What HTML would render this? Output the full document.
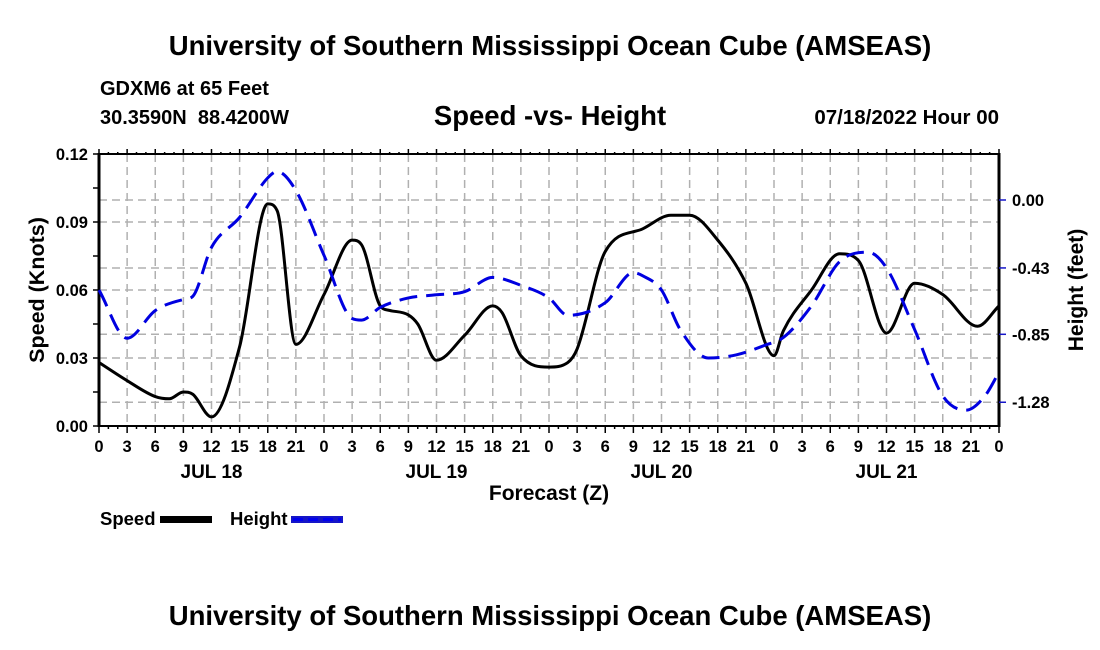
<!DOCTYPE html>
<html><head><meta charset="utf-8"><style>
body{margin:0;background:#fff;}
svg{display:block;font-family:"Liberation Sans",sans-serif;font-weight:bold;}
</style></head><body>
<svg id="c" width="1100" height="650">
<text x="550" y="55" text-anchor="middle" font-size="27.5">University of Southern Mississippi Ocean Cube (AMSEAS)</text>
<text x="100" y="95" font-size="20">GDXM6 at 65 Feet</text>
<text x="100" y="124" font-size="20" xml:space="preserve">30.3590N  88.4200W</text>
<text x="550" y="125" text-anchor="middle" font-size="27.5">Speed -vs- Height</text>
<text x="999" y="124" text-anchor="end" font-size="20.5">07/18/2022 Hour 00</text>
<text x="549" y="500" text-anchor="middle" font-size="21">Forecast (Z)</text>
<text transform="translate(44,290) rotate(-90)" text-anchor="middle" font-size="21.5">Speed (Knots)</text>
<text transform="translate(1083,290) rotate(-90)" text-anchor="middle" font-size="21">Height (feet)</text>
<text x="100" y="525" font-size="18.5">Speed</text>
<rect x="160" y="516" width="52" height="7" fill="#000"/>
<text x="230" y="525" font-size="18.5">Height</text>
<rect x="291" y="516" width="52" height="7" fill="#1515c8"/>
<line x1="293" y1="519.5" x2="341" y2="519.5" stroke="#0000ee" stroke-width="3" stroke-dasharray="10,5"/>
<text x="550" y="625" text-anchor="middle" font-size="27.5">University of Southern Mississippi Ocean Cube (AMSEAS)</text>
<g id="g"></g>
</svg>
<script>
const speedHours=[0,3,6,7.5,9,10,12,15,18,19,21,24,27,28,30,31,33,34,36,39,42,43,45,48,50,51,54,58,61,63,66,69,72,73,76,79,81,84,87,90,93.7,96];
const speedVals=[0.028,0.020,0.013,0.012,0.015,0.014,0.004,0.035,0.098,0.095,0.036,0.058,0.082,0.080,0.053,0.051,0.049,0.045,0.029,0.040,0.053,0.050,0.031,0.026,0.028,0.034,0.077,0.087,0.093,0.093,0.082,0.063,0.031,0.042,0.060,0.076,0.073,0.041,0.063,0.058,0.044,0.053];
const heightHours=[0,3,6,9,10,12,15,18,19,21,24,27,28,30,33,36,39,42,45,48,50,54,57,58,60,62,65,68,71,73,76,79,82,84,87,90,92.5,94.5,96];
const heightVals=[-0.57,-0.875,-0.70,-0.63,-0.61,-0.30,-0.11,0.14,0.18,0.06,-0.35,-0.75,-0.76,-0.68,-0.62,-0.60,-0.58,-0.49,-0.54,-0.62,-0.73,-0.65,-0.46,-0.48,-0.57,-0.82,-1.00,-0.98,-0.92,-0.87,-0.67,-0.39,-0.33,-0.43,-0.82,-1.24,-1.33,-1.24,-1.09];
const leftTicks=[0,0.03,0.06,0.09,0.12];
const leftTickLabels=["0.00","0.03","0.06","0.09","0.12"];
const rightTicks=[0,-0.43,-0.85,-1.28];
const rightTickLabels=["0.00","-0.43","-0.85","-1.28"];
const hourLabels=["0","3","6","9","12","15","18","21"];
const dayLabels=["JUL 18","JUL 19","JUL 20","JUL 21"];
const X0=99,X1=999,YT=154,YB=426;
const xs=h=>X0+h/96*(X1-X0);
const ys=v=>YB-v/0.12*(YB-YT);
const yr=f=>200-f*158;
const g=document.getElementById('g');const NS='http://www.w3.org/2000/svg';
function mk(t,a,p){const e=document.createElementNS(NS,t);for(const k in a)e.setAttribute(k,a[k]);(p||g).appendChild(e);return e;}
for(let i=1;i<32;i++){const x=xs(i*3);const l=mk('line',{x1:x,y1:YT,x2:x,y2:YB,stroke:'#b0b0b0','stroke-width':1.5,'stroke-dasharray':'8,5'});

}
const hy=[ys(0.03),ys(0.06),ys(0.09),yr(0),yr(-0.43),yr(-0.85),yr(-1.28)];
hy.forEach(y=>{const l=mk('line',{x1:X0,y1:y,x2:X1,y2:y,stroke:'#b0b0b0','stroke-width':1.5,'stroke-dasharray':'8,5'});

});
[[X0,YT,X1,YT,2],[X0,YB,X1,YB,2]].forEach(a=>{const l=mk('line',{x1:a[0],y1:a[1],x2:a[2],y2:a[3],stroke:'#000','stroke-width':a[4]});

});
[[X0],[X1]].forEach(a=>{const l=mk('line',{x1:a[0],y1:YT-1,x2:a[0],y2:YB+1,stroke:'#000','stroke-width':3});

});
for(let h=0;h<=96;h++){const x=xs(h);const major=h%3==0;
 const t=mk('line',{x1:x,y1:YB,x2:x,y2:YB+(major?7:3),stroke:'#000','stroke-width':1.5});
 
 
 const t2=mk('line',{x1:x,y1:YT,x2:x,y2:YT-(major?5:2),stroke:'#000','stroke-width':1.5});
 
 
 if(major){const tx=mk('text',{x:x,y:452,'text-anchor':'middle','font-size':16.5});tx.textContent=hourLabels[(h/3)%8];
 
 }}
dayLabels.forEach((d,i)=>{const tx=mk('text',{x:xs(i*24+12),y:478,'text-anchor':'middle','font-size':19});tx.textContent=d;
 
 });
for(let v=0;v<=0.1201;v+=0.015){const y=ys(v);const l=mk('line',{x1:X0-6,y1:y,x2:X0,y2:y,stroke:'#000','stroke-width':1.5});
 
 }
leftTicks.forEach((v,i)=>{const tx=mk('text',{x:X0-11,y:ys(v)+6,'text-anchor':'end','font-size':16.5});tx.textContent=leftTickLabels[i];
 
 });
rightTicks.forEach((v,i)=>{const y=yr(v);const l=mk('line',{x1:X1,y1:y,x2:X1+7,y2:y,stroke:'#1515c8','stroke-width':1.5});
 
 
 const tx=mk('text',{x:X1+13,y:y+6,'font-size':16.5});tx.textContent=rightTickLabels[i];
 
 });
// monotone cubic (Fritsch-Carlson) in x
function path(pts){const n=pts.length;const d=[],m=[];
 for(let i=0;i<n-1;i++)d.push((pts[i+1][1]-pts[i][1])/(pts[i+1][0]-pts[i][0]));
 m[0]=d[0];m[n-1]=d[n-2];
 for(let i=1;i<n-1;i++){m[i]=(d[i-1]*d[i]<=0)?0:(d[i-1]+d[i])/2;}
 for(let i=0;i<n-1;i++){if(d[i]===0){m[i]=0;m[i+1]=0;continue;}const a=m[i]/d[i],b=m[i+1]/d[i];const s=a*a+b*b;if(s>9){const t=3/Math.sqrt(s);m[i]=t*a*d[i];m[i+1]=t*b*d[i];}}
 let s='M'+pts[0][0]+','+pts[0][1];
 for(let i=0;i<n-1;i++){const h=(pts[i+1][0]-pts[i][0])/3;
  s+=' C'+(pts[i][0]+h)+','+(pts[i][1]+m[i]*h)+' '+(pts[i+1][0]-h)+','+(pts[i+1][1]-m[i+1]*h)+' '+pts[i+1][0]+','+pts[i+1][1];}
 return s;}
const sp=mk('path',{d:path(speedHours.map((h,i)=>[xs(h),ys(speedVals[i])])),fill:'none',stroke:'#000','stroke-width':3});


const hp=mk('path',{d:path(heightHours.map((h,i)=>[xs(h),yr(heightVals[i])])),fill:'none',stroke:'#0000e0','stroke-width':3,'stroke-dasharray':'18,9'});


</script>
</body></html>
